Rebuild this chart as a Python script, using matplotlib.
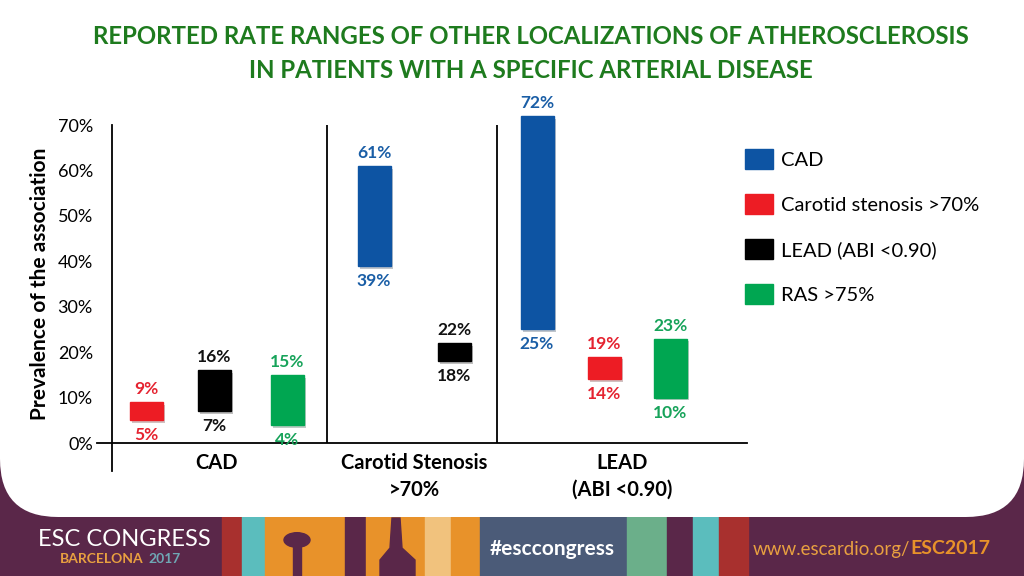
"""Reported rate ranges of other localizations of atherosclerosis (range bars)."""

import numpy as np
import matplotlib
matplotlib.use("Agg")
import matplotlib.pyplot as plt
from matplotlib.patches import Rectangle, FancyBboxPatch, Circle, Polygon
from matplotlib import patheffects as pe

# ---- data -------------------------------------------------------------
groups = ["CAD", "Carotid Stenosis\n>70%", "LEAD\n(ABI <0.90)"]
series = ["CAD", "Carotid stenosis >70%", "LEAD (ABI <0.90)", "RAS >75%"]

cad_low = [np.nan, 39, 25]
cad_high = [np.nan, 61, 72]
carotid_low = [5, np.nan, 14]
carotid_high = [9, np.nan, 19]
lead_low = [7, 18, np.nan]
lead_high = [16, 22, np.nan]
ras_low = [4, np.nan, 10]
ras_high = [15, np.nan, 23]

yticks = [0, 10, 20, 30, 40, 50, 60, 70]

# ---- style / layout ---------------------------------------------------
BAR_COLORS = ["#0D54A3", "#ED1C24", "#000000", "#00A651"]
LABEL_COLORS = ["#1A5EA6", "#E52330", "#111111", "#17A35A"]
TITLE_GREEN = "#1E7B1E"
PURPLE = "#5A2749"
FONT = ["Lato", "DejaVu Sans"]

# bar centres in pixel-like layout units, per series and group
BAR_X = [
    [np.nan, 374, 537],
    [146, np.nan, 604],
    [214, 454, np.nan],
    [287, np.nan, 670],
]
GROUP_X = [217, 414, 622]
DIVIDERS = [327, 497]
BAR_W = 33

lows = [cad_low, carotid_low, lead_low, ras_low]
highs = [cad_high, carotid_high, lead_high, ras_high]

W, H = 1024, 576
fig = plt.figure(figsize=(W / 100, H / 100), dpi=100, facecolor=PURPLE)

# ---- footer banner stripes (behind the white card) --------------------
stripes = [
    (222, 242, "#A8302E"), (242, 265, "#5BBDBD"), (265, 345, "#E8922A"),
    (345, 366, PURPLE), (366, 425, "#E8922A"), (425, 451, "#F1C27D"),
    (451, 480, "#E8922A"), (480, 627, "#4B5B78"), (627, 667, "#6BAF8A"),
    (667, 693, PURPLE), (693, 719, "#5BBDBD"), (719, 748, "#A8302E"),
]
for x0, x1, c in stripes:
    fig.patches.append(Rectangle((x0 / W, 0), (x1 - x0) / W, 0.2,
                                 transform=fig.transFigure, color=c, zorder=0))
# wine glass and bottle silhouettes
fig.patches.append(Circle((297 / W, 1 - 540 / H), 13 / W, transform=fig.transFigure,
                          color=PURPLE, zorder=0.5))
fig.patches.append(Rectangle((293 / W, 0), 8 / W, (576 - 545) / H,
                             transform=fig.transFigure, color=PURPLE, zorder=0.5))
bottle = [(380, 576), (380, 560), (390, 548), (392, 518), (400, 518),
          (402, 548), (415, 560), (415, 576)]
fig.patches.append(Polygon([(x / W, 1 - y / H) for x, y in bottle],
                           transform=fig.transFigure, color=PURPLE, zorder=0.5))

# white rounded card
card = FancyBboxPatch((0, (H - 517) / 100), W / 100, 7,
                      boxstyle="round,pad=0,rounding_size=0.58",
                      transform=fig.dpi_scale_trans, facecolor="white",
                      edgecolor="none", zorder=1)
fig.patches.append(card)

renderer = fig.canvas.get_renderer()

fig.text(38 / W, 1 - 540 / H, "ESC CONGRESS", color="white", fontsize=17,
         family=FONT, ha="left", va="center", zorder=2)
barca = fig.text(60 / W, 1 - 559 / H, "BARCELONA", color="#E8A040", fontsize=10,
                 fontweight="bold", family=FONT, ha="left", va="center", zorder=2)
bx = barca.get_window_extent(renderer).x1
fig.text((bx + 5) / W, 1 - 559 / H, "2017", color="#6FA7B4", fontsize=10,
         fontweight="bold", family=FONT, ha="left", va="center", zorder=2)
fig.text(552 / W, 1 - 549 / H, "#esccongress", color="white", fontsize=15,
         fontweight="bold", family=FONT, ha="center", va="center", zorder=2)
esc = fig.text(990 / W, 1 - 549 / H, "ESC2017", color="#E8922A", fontsize=14,
               fontweight="bold", family=FONT, ha="right", va="center", zorder=2)
ex = esc.get_window_extent(renderer).x0
fig.text(ex / W, 1 - 549 / H, "www.escardio.org/", color="#E8A040", fontsize=13.5,
         family=FONT, ha="right", va="center", zorder=2)

# ---- title -------------------------------------------------------------
fig.text(531 / W, 1 - 37 / H, "REPORTED RATE RANGES OF OTHER LOCALIZATIONS OF ATHEROSCLEROSIS",
         color=TITLE_GREEN, fontsize=17.3, fontweight="bold", family=FONT,
         ha="center", va="center", zorder=3)
fig.text(531 / W, 1 - 70 / H, "IN PATIENTS WITH A SPECIFIC ARTERIAL DISEASE",
         color=TITLE_GREEN, fontsize=17.3, fontweight="bold", family=FONT,
         ha="center", va="center", zorder=3)

# ---- axes --------------------------------------------------------------
x0_px, x1_px, top_px, bot_px = 97, 747, 125, 443
ax = fig.add_axes([x0_px / W, 1 - bot_px / H, (x1_px - x0_px) / W, (bot_px - top_px) / H])
ax.set_zorder(3)
ax.patch.set_alpha(0)
ax.set_xlim(x0_px, x1_px)
ax.set_ylim(0, 70)
for side in ["top", "right", "left"]:
    ax.spines[side].set_visible(False)
ax.spines["bottom"].set_linewidth(1.3)
ax.set_xticks([])
ax.set_yticks(yticks)
ax.set_yticklabels([f"{v}%" for v in yticks], family=FONT, fontsize=13)
ax.tick_params(axis="y", length=0, pad=3)

# y axis line (extends below the category axis) and group dividers
ax.plot([112, 112], [70, -6.2], color="black", lw=1.3, clip_on=False)
for d in DIVIDERS:
    ax.plot([d, d], [0, 70], color="black", lw=1.3)

ax.set_ylabel("Prevalence of the association", family=FONT, fontsize=15,
              fontweight="bold")
ax.yaxis.set_label_coords(-0.073, 0.5)

shadow = [pe.SimplePatchShadow(offset=(2, -2), alpha=0.25), pe.Normal()]
handles = []
for i, name in enumerate(series):
    lo = np.array(lows[i], dtype=float)
    hi = np.array(highs[i], dtype=float)
    xs = np.array(BAR_X[i], dtype=float)
    ok = ~np.isnan(lo)
    bars = ax.bar(xs[ok], hi[ok] - lo[ok], bottom=lo[ok], width=BAR_W,
                  color=BAR_COLORS[i], edgecolor=BAR_COLORS[i], clip_on=False,
                  label=name, zorder=3)
    for b in bars:
        b.set_path_effects(shadow)
    handles.append(bars)
    for x, l, h in zip(xs[ok], lo[ok], hi[ok]):
        ax.annotate(f"{h:.0f}%", (x, h), xytext=(0, 13), textcoords="offset pixels",
                    ha="center", va="center", color=LABEL_COLORS[i], fontsize=12.5,
                    fontweight="bold", family=FONT, annotation_clip=False)
        ax.annotate(f"{l:.0f}%", (x, l), xytext=(0, -15), textcoords="offset pixels",
                    ha="center", va="center", color=LABEL_COLORS[i], fontsize=12.5,
                    fontweight="bold", family=FONT, annotation_clip=False)

# category labels under the axis
for gx, g in zip(GROUP_X, groups):
    for k, line in enumerate(g.split("\n")):
        ax.annotate(line, (gx, 0), xytext=(0, -20 - 27 * k), textcoords="offset pixels",
                    ha="center", va="center", fontsize=14.5, fontweight="bold",
                    family=FONT, annotation_clip=False)

leg = fig.legend(handles, series, loc="upper left",
                 bbox_to_anchor=(745 / W, 1 - 149 / H), frameon=False,
                 prop={"family": FONT, "size": 14.5}, handlelength=1.4,
                 handleheight=1.15, labelspacing=1.25, handletextpad=0.4,
                 borderpad=0, borderaxespad=0)
for h in leg.legend_handles:
    h.set_path_effects([])

fig.savefig("out.png", dpi=100, facecolor=fig.get_facecolor())
